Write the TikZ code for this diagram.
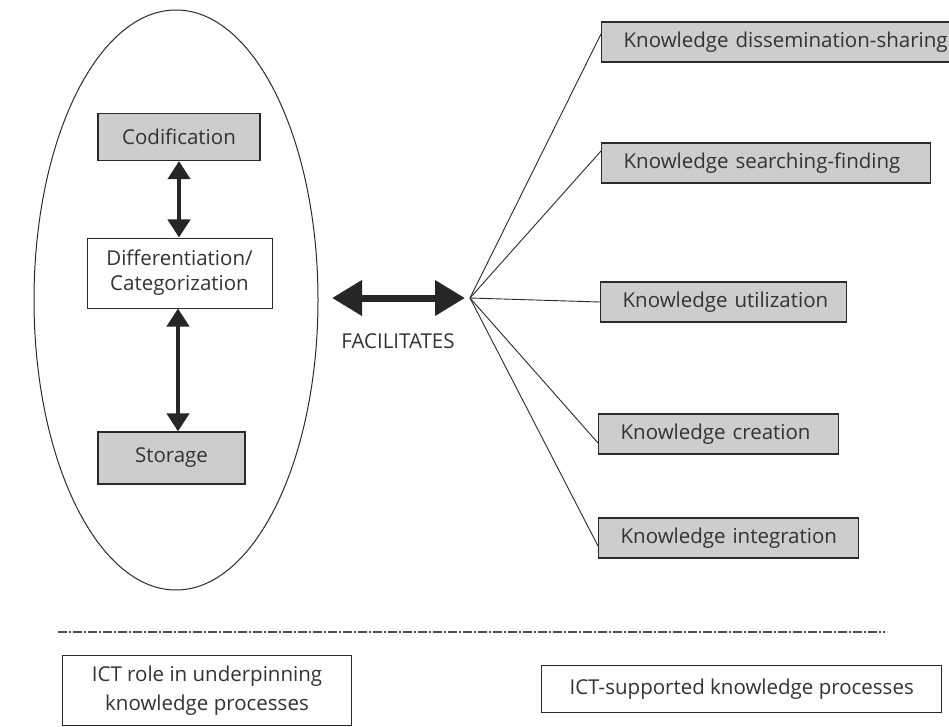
\documentclass[tikz,border=0pt]{standalone}
\usepackage{fontspec}
\setmainfont{Open Sans}
\usetikzlibrary{arrows.meta,shapes.geometric}
\definecolor{boxgray}{HTML}{CDCDCD}
\definecolor{linegray}{HTML}{2A2A2A}
\begin{document}
\begin{tikzpicture}[x=1pt,y=-1pt,
  every node/.style={font=\fontsize{20.5}{25}\selectfont, text=black!80},
  graybox/.style={draw=linegray, line width=1.2pt, fill=boxgray, inner sep=0pt},
  whitebox/.style={draw=linegray, line width=1pt, fill=white, inner sep=0pt, align=center},
  kbox/.style={draw=linegray, line width=1.2pt, fill=boxgray, anchor=west,
    minimum height=40pt, inner xsep=22pt, inner ysep=0pt, align=left},
  twoway/.style={{Triangle[length=18pt,width=22pt]}-{Triangle[length=18pt,width=22pt]},
    line width=4pt, draw=black!85},
  bigway/.style={{Triangle[length=30pt,width=34pt]}-{Triangle[length=30pt,width=34pt]},
    line width=7pt, draw=black!85},
  spoke/.style={draw=linegray, line width=0.9pt}]
\useasboundingbox (0,0) rectangle (949,727);
\clip (0,0) rectangle (949,727);

% ICT role: the enclosing ellipse and the three stages
\node[ellipse, draw=linegray, line width=1pt, minimum width=284pt, minimum height=580pt,
  inner sep=0pt] (oval) at (176,300) {};
\node[graybox, minimum width=162pt, minimum height=47pt] (cod) at (179,137) {Codification};
\node[whitebox, minimum width=185pt, minimum height=70pt] (diff) at (179.5,273)
  {Differentiation/\\Categorization};
\node[graybox, minimum width=147pt, minimum height=52pt] (sto) at (171.5,458) {Storage};
\draw[twoway] (cod.south -| 179,0) -- (diff.north -| 179,0);
\draw[twoway] (diff.south -| 178,0) -- (sto.north -| 178,0);

% link between the two halves
\coordinate (fan) at (470,298);
\coordinate (fl) at (332,298);
\draw[bigway] (fl) -- (465,298);
\node (fac) at (398,341) {FACILITATES};

% ICT-supported knowledge processes (box widths: 360, 329, 246, 240, 260)
\node[kbox, text width=316pt] (k1) at (601,42) {\mbox{Knowledge dissemination-sharing}};
\node[kbox, text width=285pt] (k2) at (601,163) {\mbox{Knowledge searching-finding}};
\node[kbox, text width=202pt] (k3) at (600,302) {\mbox{Knowledge utilization}};
\node[kbox, text width=196pt] (k4) at (598,434) {\mbox{Knowledge creation}};
\node[kbox, text width=216pt] (k5) at (598,538) {\mbox{Knowledge integration}};
\draw[spoke] (fan) -- ([yshift=8pt]k1.west);
\draw[spoke] (fan) -- ([yshift=12pt]k2.west);
\draw[spoke] (fan) -- (k3.west);
\draw[spoke] (fan) -- ([yshift=-9pt]k4.west);
\draw[spoke] (fan) -- ([yshift=-8pt]k5.west);

% divider and captions
\coordinate (dl) at (58,632);
\coordinate (dr) at (885,632);
\draw[draw=black!70, line width=1.3pt, dash pattern=on 9pt off 2pt on 2pt off 2pt] (dl) -- (dr);
\node[whitebox, minimum width=289pt, minimum height=70pt, anchor=north west,
  font=\fontsize{20.5}{29}\selectfont] (cap1) at (62,655)
  {ICT role in underpinning\\knowledge processes};
\node[whitebox, line width=1.3pt, minimum width=400pt, minimum height=47pt, anchor=north west] (cap2)
  at (541,665) {ICT-supported knowledge processes};
\end{tikzpicture}
\end{document}
